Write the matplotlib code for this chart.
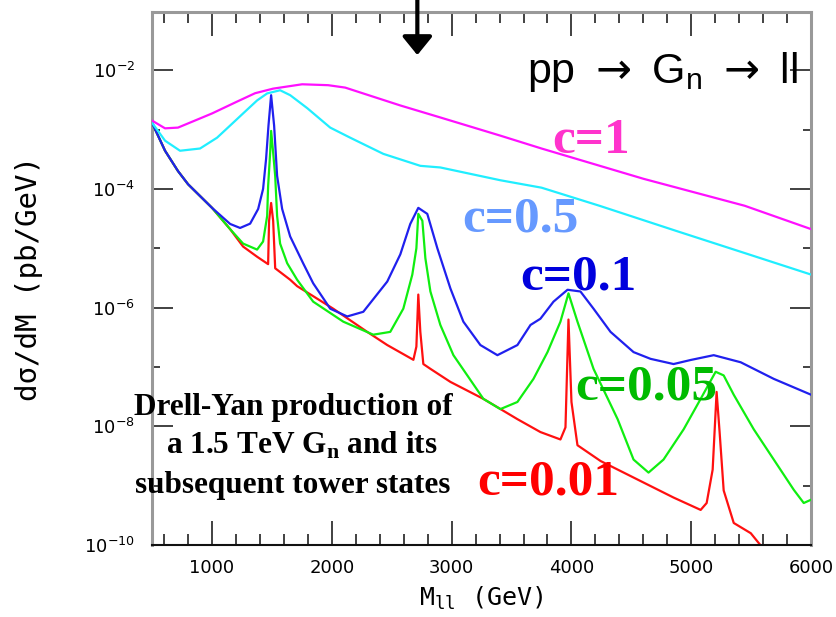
import matplotlib
matplotlib.use("Agg")
import matplotlib.pyplot as plt
from matplotlib.ticker import NullFormatter

plt.rcParams['mathtext.fontset'] = 'custom'
plt.rcParams['mathtext.bf'] = 'Liberation Serif:bold'
plt.rcParams['mathtext.sf'] = 'Liberation Sans'
plt.rcParams['mathtext.tt'] = 'DejaVu Sans Mono'

# c = 1
m_c1 = [500, 609, 717, 1001, 1200, 1360, 1511, 1753, 1970, 2112, 2572, 2906,
        3407, 3750, 4602, 5446, 6000]
s_c1 = [1.42e-3, 1.05e-3, 1.08e-3, 1.87e-3, 2.9e-3, 4.1e-3, 4.9e-3, 5.8e-3,
        5.6e-3, 5.1e-3, 2.55e-3, 1.6e-3, 7.9e-4, 4.8e-4, 1.48e-4, 5.2e-5, 2.1e-5]

# c = 0.5
m_c05 = [500, 609, 734, 901, 1043, 1152, 1260, 1377, 1461, 1569, 1653, 1795,
         1987, 2154, 2430, 2739, 2906, 3407, 3750, 4234, 4878, 5446, 6000]
s_c05 = [1.31e-3, 6.5e-4, 4.4e-4, 4.8e-4, 7.3e-4, 1.17e-3, 1.87e-3, 3.1e-3,
         4.07e-3, 4.6e-3, 3.8e-3, 2.3e-3, 1.08e-3, 7.3e-4, 3.9e-4, 2.45e-4,
         2.3e-4, 1.4e-4, 1.05e-4, 5.2e-5, 1.95e-5, 8.3e-6, 3.6e-6]

# c = 0.1
m_c01 = [500, 609, 717, 801, 1001, 1152, 1235, 1319, 1386, 1427, 1452, 1472,
         1494, 1519, 1544, 1586, 1653, 1761, 1845, 1987, 2129, 2263, 2463, 2572,
         2655, 2722, 2797, 2881, 2990, 3098, 3240, 3382, 3549, 3658, 3741, 3850,
         3967, 4075, 4184, 4326, 4518, 4660, 4852, 4994, 5187, 5412, 5688, 6000]
s_c01 = [1.31e-3, 4.4e-4, 2.0e-4, 1.2e-4, 4.8e-5, 2.57e-5, 2.2e-5, 2.6e-5,
         4.6e-5, 1.0e-4, 3.2e-4, 1.17e-3, 3.8e-3, 1.17e-3, 1.66e-4, 4.6e-5,
         1.58e-5, 5.6e-6, 2.57e-6, 9.6e-7, 7.1e-7, 8.5e-7, 2.75e-6, 7.9e-6,
         2.57e-5, 4.8e-5, 3.8e-5, 1.0e-5, 2.1e-6, 5.8e-7, 2.34e-7, 1.58e-7,
         2.34e-7, 5.1e-7, 6.5e-7, 1.26e-6, 2.0e-6, 1.87e-6, 9.6e-7, 3.9e-7,
         1.78e-7, 1.37e-7, 1.12e-7, 1.31e-7, 1.58e-7, 1.2e-7, 6.3e-8, 3.4e-8]

# c = 0.05
m_c005 = [500, 609, 717, 801, 1001, 1152, 1260, 1377, 1427, 1461, 1469, 1486,
          1494, 1511, 1528, 1544, 1569, 1628, 1711, 1845, 2096, 2346, 2488, 2597,
          2672, 2706, 2722, 2756, 2781, 2823, 2906, 3015, 3131, 3265, 3407, 3549,
          3683, 3800, 3908, 3975, 4050, 4184, 4385, 4518, 4643, 4768, 4936, 5078,
          5203, 5270, 5354, 5521, 5688, 5855, 5938, 6000]
s_c005 = [1.31e-3, 4.4e-4, 2.0e-4, 1.2e-4, 4.8e-5, 2.1e-5, 1.2e-5, 9.5e-6,
          1.3e-5, 3.5e-5, 1.12e-4, 4.1e-4, 9.5e-4, 4.1e-4, 1.66e-4, 3.5e-5,
          1.2e-5, 5.6e-6, 2.95e-6, 1.26e-6, 5.8e-7, 3.5e-7, 3.9e-7, 9.6e-7,
          3.6e-6, 1.0e-5, 3.8e-5, 2.9e-5, 6.8e-6, 1.87e-6, 5.1e-7, 1.58e-7,
          7.2e-8, 2.9e-8, 1.95e-8, 2.57e-8, 6.3e-8, 1.78e-7, 5.8e-7, 1.74e-6,
          5.8e-7, 9.3e-8, 1.32e-8, 2.75e-9, 1.66e-9, 2.75e-9, 8.9e-9, 2.9e-8,
          8.3e-8, 7.2e-8, 3.4e-8, 8.9e-9, 2.75e-9, 8.5e-10, 5.1e-10, 5.8e-10]

# c = 0.01
m_c001 = [500, 609, 717, 801, 1001, 1152, 1260, 1377, 1469, 1477, 1494, 1511,
          1528, 1653, 1711, 2012, 2296, 2463, 2681, 2706, 2722, 2739, 2764, 2823,
          2990, 3265, 3549, 3741, 3908, 3950, 3975, 4000, 4050, 4243, 4518, 4852,
          5078, 5128, 5178, 5211, 5236, 5270, 5354, 5496, 5596]
s_c001 = [1.31e-3, 4.4e-4, 2.0e-4, 1.2e-4, 4.8e-5, 2.1e-5, 1.07e-5, 7.2e-6,
          5.4e-6, 2.9e-5, 5.8e-5, 2.9e-5, 4.6e-6, 2.95e-6, 2.3e-6, 9.6e-7,
          3.9e-7, 2.34e-7, 1.32e-7, 2.2e-7, 1.66e-6, 3.9e-7, 1.12e-7, 9.3e-8,
          5.6e-8, 2.9e-8, 1.32e-8, 8.0e-9, 6.0e-9, 9.6e-9, 6.3e-7, 2.57e-8,
          4.8e-9, 2.6e-9, 1.37e-9, 6.3e-10, 3.9e-10, 5.1e-10, 1.86e-9, 3.8e-8,
          8.0e-9, 8.3e-10, 2.35e-10, 1.58e-10, 8.9e-11]

fig = plt.figure(figsize=(8.36, 6.17), dpi=100)
ax = fig.add_axes([0.1818, 0.1167, 0.7885, 0.864])

ax.plot(m_c001, s_c001, color='#ff1010', lw=1.6, zorder=2)
ax.plot(m_c005, s_c005, color='#10ee10', lw=1.6, zorder=3)
ax.plot(m_c01, s_c01, color='#2020ee', lw=1.6, zorder=4)
ax.plot(m_c05, s_c05, color='#20eeff', lw=1.6, zorder=5)
ax.plot(m_c1, s_c1, color='#ff10ff', lw=1.6, zorder=6)

ax.set_yscale('log')
ax.set_xlim(500, 6000)
ax.set_ylim(1e-10, 10 ** -1.017)

ax.set_yticks([1e-10, 1e-8, 1e-6, 1e-4, 1e-2])
ax.set_yticks([1e-9, 1e-7, 1e-5, 1e-3], minor=True)
ax.yaxis.set_minor_formatter(NullFormatter())
ax.set_xticks([1000, 2000, 3000, 4000, 5000, 6000])
ax.set_xticks(list(range(600, 6000, 200)), minor=True)

ax.tick_params(which='both', direction='in', top=True, right=True,
               color='#333333', width=1.3, labelsize=13)
ax.tick_params(axis='y', which='major', length=15, pad=12)
ax.tick_params(axis='y', which='minor', length=6)
ax.tick_params(axis='x', which='major', length=17, pad=10)
ax.tick_params(axis='x', which='minor', length=8)

for side in ['left', 'right', 'top']:
    ax.spines[side].set_color('#999999')
    ax.spines[side].set_linewidth(2.2)
ax.spines['bottom'].set_color('#111111')
ax.spines['bottom'].set_linewidth(1.5)

ax.set_xlabel(r'M$_{\mathtt{ll}}$ (GeV)', family='DejaVu Sans Mono', fontsize=18,
              labelpad=6)
ax.set_ylabel('dσ/dM (pb/GeV)', family='DejaVu Sans Mono', fontsize=21,
              labelpad=30)

ax.text(3633, 6.0e-3, r'pp $\rightarrow$ G$_{\mathsf{n}}$ $\rightarrow$ ll',
        fontsize=31, family=['Liberation Sans', 'DejaVu Sans'],
        ha='left', va='baseline')

serif = dict(family='Liberation Serif', weight='bold', ha='left', va='baseline',
             fontsize=37, zorder=8)
ax.text(3842, 4.07e-4, 'c=1', color='#ff33cc', **serif)
ax.text(3090, 1.95e-5, 'c=0.5', color='#6699ff', **serif)
ax.text(3574, 2.04e-6, 'c=0.1', color='#0000dd', **serif)
ax.text(4034, 2.88e-8, 'c=0.05', color='#00bb00', **serif)
ax.text(3215, 7.1e-10, 'c=0.01', color='#ff0000', **serif)

dy = dict(family='Liberation Serif', weight='bold', ha='center', va='baseline',
          fontsize=22.5, zorder=8)
ax.text(1678, 1.55e-8, 'Drell-Yan production of', **dy)
ax.text(1750, 3.4e-9, r'a 1.5 TeV G$_{\mathbf{n}}$ and its', **dy)
ax.text(1678, 7.6e-10, 'subsequent tower states', **dy)

ax.annotate('', xy=(2714, 1.8e-2), xytext=(2714, 0.17),
            arrowprops=dict(arrowstyle='-|>,head_length=0.8,head_width=0.65',
                            lw=3, color='black', mutation_scale=14,
                            shrinkA=0, shrinkB=0),
            annotation_clip=False, zorder=10)

fig.savefig('out.png', dpi=100)
